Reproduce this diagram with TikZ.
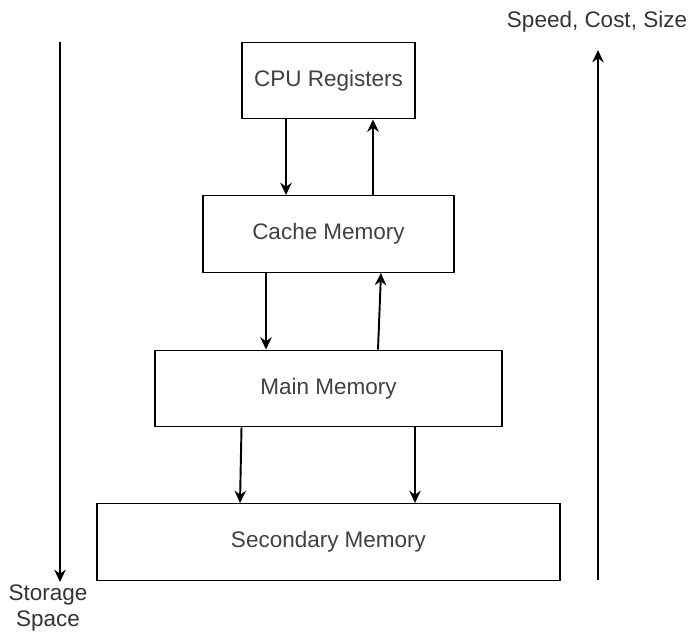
\documentclass[tikz,border=0pt]{standalone}
\usepackage{fontspec}
\setmainfont{Liberation Sans}
\usepackage{tikz}
\usetikzlibrary{arrows,arrows.meta}

\begin{document}
\begin{tikzpicture}[->,>={Stealth[length=7pt,width=6.5pt]},line width=1.1pt,
                    mem node/.style={rectangle,draw,line width=0.8pt,minimum height=1.53cm,
                                     font=\fontsize{12.8}{15}\selectfont,text=black!75},
                    side label/.style={align=center,inner sep=0pt,font=\fontsize{12.8}{14.6}\selectfont,text=black!80}]
  \useasboundingbox (0,0) rectangle (13.84,-12.64);

  \node[mem node,minimum width=3.46cm] (cpu)   at (6.57,-1.61)  {CPU Registers};
  \node[mem node,minimum width=5.02cm] (cache) at (6.57,-4.68)  {Cache Memory};
  \node[mem node,minimum width=6.94cm] (main)  at (6.57,-7.77)  {Main Memory};
  \node[mem node,minimum width=9.26cm] (sec)   at (6.57,-10.84) {Secondary Memory};

  \coordinate (lt) at (1.2,-0.84);
  \coordinate (lb) at (1.2,-11.64);
  \coordinate (rb) at (11.96,-11.6);
  \coordinate (rt) at (11.96,-1.0);
  \node[side label,anchor=north] (storage) at (0.96,-11.68) {Storage\\Space};
  \node[side label] (speed) at (11.94,-0.44) {Speed, Cost, Size};

  \draw ([xshift=-0.85cm]cpu.south) -- ([xshift=-0.85cm]cache.north);
  \draw ([xshift=0.89cm]cache.north) -- ([xshift=0.89cm]cpu.south);
  \draw ([xshift=-1.25cm]cache.south) -- ([xshift=-1.25cm]main.north);
  \draw ([xshift=0.99cm]main.north) -- ([xshift=1.05cm]cache.south);
  \draw ([xshift=-1.74cm]main.south) -- ([xshift=-1.77cm]sec.north);
  \draw ([xshift=1.73cm]main.south) -- ([xshift=1.73cm]sec.north);

  \draw (lt) -- (lb);
  \draw (rb) -- (rt);
\end{tikzpicture}
\end{document}
